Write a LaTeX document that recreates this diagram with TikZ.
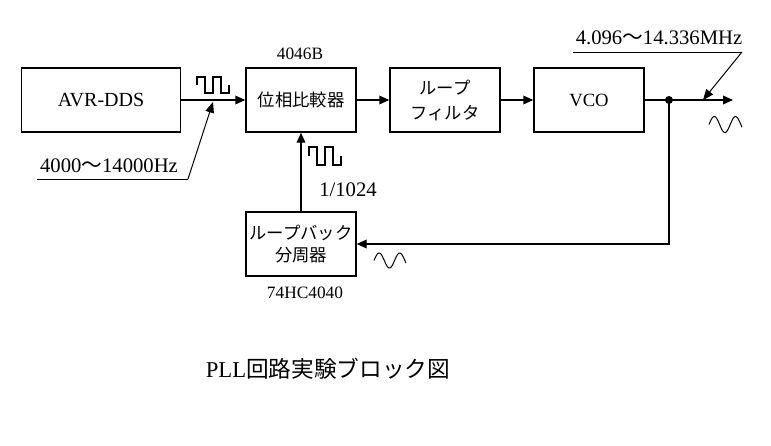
\documentclass[tikz,border=0pt]{standalone}
\usepackage{fontspec}
\setmainfont{Liberation Serif}
\newfontfamily\jpfont{Noto Sans CJK JP}
\usetikzlibrary{arrows.meta}

\begin{document}
\begin{tikzpicture}[x=0.75pt, y=-0.75pt, line width=1.1pt,
  blk/.style={draw, line width=1.1pt, minimum width=82.5pt, minimum height=48pt, inner sep=0pt, align=center},
  sig/.style={-{Triangle[length=7.5pt, width=6.5pt]}},
  ptr/.style={line width=0.75pt, -{Triangle[length=8pt, width=6.5pt]}},
  lbl/.style={inner sep=0pt}]
\useasboundingbox (0,0) rectangle (771,446);
% blocks
\node[blk, minimum width=119pt, font=\fontsize{15}{18}\selectfont] (dds) at (101,100) {AVR-DDS};
\node[blk, font=\fontsize{13}{16}\selectfont\jpfont] (pd) at (301,100) {位相比較器};
\node[blk, font=\fontsize{13}{18.75}\selectfont\jpfont] (lf) at (445,100) {ループ\\フィルタ};
\node[blk, font=\fontsize{14}{17}\selectfont] (vco) at (589,100) {VCO};
\node[blk, font=\fontsize{13}{16.5}\selectfont\jpfont] (div) at (301,244) {ループバック\\分周器};
% chip names
\node[lbl, font=\fontsize{13}{16}\selectfont] (pdic) at (300,54) {4046B};
\node[lbl, font=\fontsize{13}{16}\selectfont] (divic) at (305,293) {74HC4040};
% signal path
\coordinate (tap) at (669,100);
\coordinate (out) at (733,100);
\draw[sig] (dds) -- (pd);
\draw[sig] (pd) -- (lf);
\draw[sig] (lf) -- (vco);
\draw[sig] (vco) -- (out);
\draw[sig] (tap) |- (div.east);
\draw[sig] (div) -- (pd);
\fill (tap) circle (3pt);
% frequency labels
\node[lbl, font=\fontsize{15.5}{18}\selectfont] (fin) at (109,166) {4000{\jpfont 〜}14000Hz};
\coordinate (fin-a) at (37,179);
\coordinate (fin-b) at (188,179);
\coordinate (fin-t) at (213,102);
\draw[line width=0.75pt] (fin-a) -- (fin-b);
\draw[ptr] (fin-b) -- (fin-t);
\node[lbl, font=\fontsize{15.5}{18}\selectfont] (fout) at (659,38) {4.096{\jpfont 〜}14.336MHz};
\coordinate (fout-a) at (573,52);
\coordinate (fout-b) at (742,52);
\coordinate (fout-t) at (703,100);
\draw[line width=0.75pt] (fout-a) -- (fout-b);
\draw[ptr] (fout-b) -- (fout-t);
\node[lbl, font=\fontsize{15.5}{18}\selectfont] (ratio) at (348,190) {1/1024};
% waveforms
\draw[line width=0.9pt] (197,85) -- ++(0,-8) -- ++(8,0) -- ++(0,16) -- ++(8,0) -- ++(0,-16) -- ++(8,0) -- ++(0,16) -- ++(8,0) -- ++(0,-8);
\draw[line width=0.9pt] (309,156) -- ++(0,-9) -- ++(8,0) -- ++(0,18) -- ++(8,0) -- ++(0,-18) -- ++(8,0) -- ++(0,18) -- ++(8,0) -- ++(0,-9);
\draw[line width=0.75pt] plot[domain=0:560, samples=60] ({374+\x/560*32}, {260.5-7.5*sin(\x)});
\draw[line width=0.75pt] plot[domain=0:560, samples=60] ({709+\x/560*33}, {124.5-8*sin(\x)});
% title
\node[lbl, font=\fontsize{17}{20}\selectfont] (title) at (328,369) {PLL{\jpfont 回路実験ブロック図}};
\end{tikzpicture}
\end{document}
